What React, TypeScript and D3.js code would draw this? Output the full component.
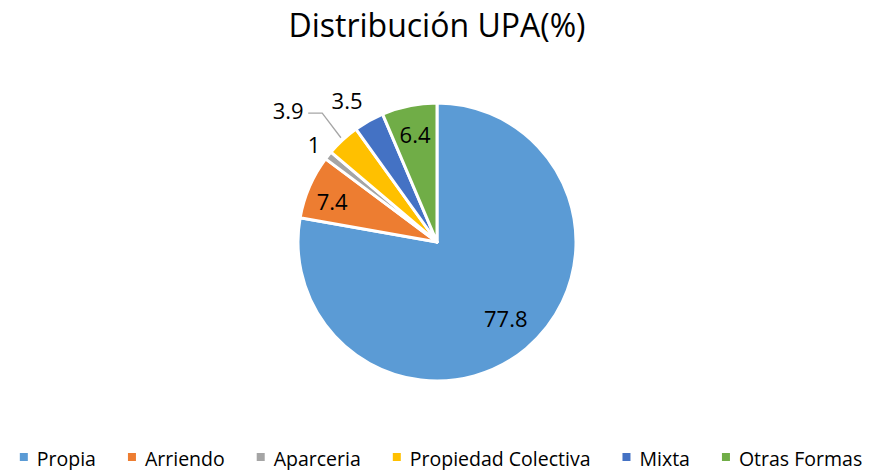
import React, { useEffect, useRef } from "react";
import * as d3 from "d3";

const categories = ["Propia", "Arriendo", "Aparceria", "Propiedad Colectiva", "Mixta", "Otras Formas"];
const values = [77.8, 7.4, 1, 3.9, 3.5, 6.4];
const colors = ["#5B9BD5", "#ED7D31", "#A5A5A5", "#FFC000", "#4472C4", "#70AD47"];
const title = "Distribución UPA(%)";

const W = 871;
const H = 470;
const FONT = "'Open Sans', 'Noto Sans', sans-serif";

export default function App() {
  const ref = useRef<SVGSVGElement | null>(null);

  useEffect(() => {
    document.body.style.margin = "0";
    const svg = d3.select(ref.current);
    svg.selectAll("*").remove();

    svg.append("rect").attr("width", W).attr("height", H).attr("fill", "#fff");

    svg.append("text")
      .attr("x", 437).attr("y", 37)
      .attr("text-anchor", "middle")
      .attr("font-family", FONT)
      .attr("font-size", 32)
      .attr("fill", "#000")
      .text(title);

    const cx = 437, cy = 242, r = 139;
    const g = svg.append("g").attr("transform", `translate(${cx},${cy})`);
    const pie = d3.pie<number>().sort(null).value((d) => d);
    const arcs = pie(values);
    const arc = d3.arc<d3.PieArcDatum<number>>().innerRadius(0).outerRadius(r);

    g.selectAll("path").data(arcs).join("path")
      .attr("d", arc as any)
      .attr("fill", (_d, i) => colors[i])
      .attr("stroke", "#fff")
      .attr("stroke-width", 3)
      .attr("stroke-linejoin", "round");

    // label placement: radius factor and angular shift (degrees) per slice
    const labelPlace: Record<string, [number, number]> = {
      "Propia": [0.74, -2],
      "Arriendo": [0.81, -2],
      "Aparceria": [1.13, 0],
      "Propiedad Colectiva": [1.43, -5.8],
      "Mixta": [1.21, -3],
      "Otras Formas": [0.79, 0],
    };
    arcs.forEach((a, i) => {
      const mid = (a.startAngle + a.endAngle) / 2;
      const name = categories[i];
      const [f, shift] = labelPlace[name];
      const ang = mid + (shift * Math.PI) / 180;
      const lx = Math.sin(ang) * r * f;
      const ly = -Math.cos(ang) * r * f;
      g.append("text")
        .attr("x", lx).attr("y", ly)
        .attr("text-anchor", "middle")
        .attr("dominant-baseline", "central")
        .attr("font-family", FONT)
        .attr("font-size", 22)
        .attr("fill", "#000")
        .text(String(values[i]));
      if (f > 1.3) {
        const ex = Math.sin(mid) * r * 1.02;
        const ey = -Math.cos(mid) * r * 1.02;
        const sx = lx + 20;
        const kx = lx + 34;
        g.append("polyline")
          .attr("points", `${sx},${ly + 3} ${kx},${ly + 3} ${ex},${ey}`)
          .attr("fill", "none")
          .attr("stroke", "#A6A6A6")
          .attr("stroke-width", 1.3);
      }
    });

    // legend
    const lg = svg.append("g").attr("transform", `translate(0,457)`);
    const items = lg.selectAll("g").data(categories).join("g");
    items.append("rect")
      .attr("width", 8).attr("height", 8).attr("y", -4)
      .attr("fill", (_d, i) => colors[i]);
    items.append("text")
      .attr("x", 17).attr("y", 1)
      .attr("dominant-baseline", "central")
      .attr("font-family", FONT)
      .attr("font-size", 19.5)
      .attr("fill", "#000")
      .text((d) => d);
    let x = 0;
    const offs: number[] = [];
    items.each(function () {
      const t = d3.select(this).select("text").node() as SVGTextElement;
      offs.push(x);
      x += 17 + t.getComputedTextLength() + 32;
    });
    const total = x - 32;
    const start = 441 - total / 2;
    items.attr("transform", (_d, i) => `translate(${start + offs[i]},0)`);
  }, []);

  return <svg ref={ref} width={W} height={H} style={{ display: "block" }} />;
}
